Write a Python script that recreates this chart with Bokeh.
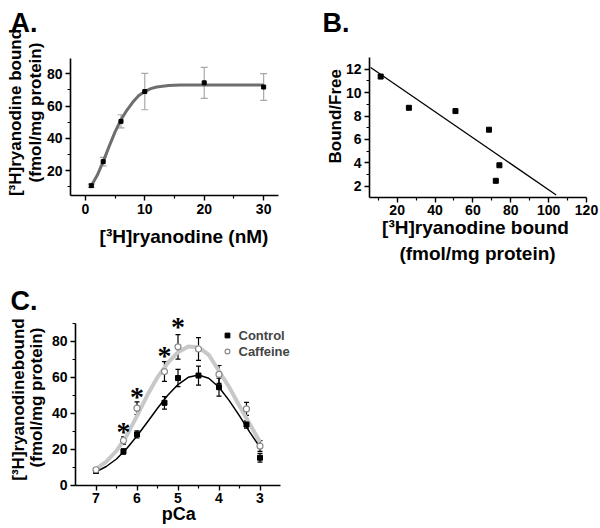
import math
from bokeh.plotting import figure
from bokeh.models import (Range1d, FixedTicker, Label, LabelSet, Whisker, TeeHead,
                          ColumnDataSource, Legend, LegendItem)
from bokeh.layouts import column, row
from bokeh.embed import file_html
from bokeh.resources import INLINE

FONT = "Liberation Sans"

# ---------------- Panel A data ----------------
a_x = [1, 3, 6, 10, 20, 30]
a_y = [10.6, 25.5, 50.5, 69.0, 74.4, 71.8]
a_err = [1.0, 2.6, 4.1, 11.3, 9.6, 8.3]
a_fit_x = [1, 2, 3, 4, 5, 6, 7, 8, 9, 10, 11, 12, 14, 16, 20, 25, 30]
a_fit_y = [10.5, 17.0, 25.5, 35.0, 44.0, 51.5, 57.5, 62.5, 66.5, 69.0, 70.8,
           71.8, 72.7, 73.0, 73.1, 73.1, 73.1]
a_xticks = [0, 10, 20, 30]
a_xminor = [5, 15, 25]
a_yticks = [20, 40, 60, 80]
a_yminor = [10, 30, 50, 70]

# ---------------- Panel B data ----------------
b_x = [11.3, 26.2, 50.8, 68.5, 74.0, 72.1]
b_y = [11.37, 8.7, 8.42, 6.83, 3.79, 2.46]
b_fit_x = [6.0, 104.0]
b_fit_y = [12.15, 1.25]
b_xticks = [20, 40, 60, 80, 100, 120]
b_xminor = [10, 30, 50, 70, 90, 110]
b_yticks = [2, 4, 6, 8, 10, 12]
b_yminor = [3, 5, 7, 9, 11]

# ---------------- Panel C data ----------------
c_pca = [7, 6.33, 6, 5.33, 5, 4.5, 4, 3.33, 3]
c_ctrl = [7.8, 18.7, 28.2, 45.8, 59.6, 61.0, 54.5, 33.7, 15.2]
c_ctrl_err = [1.0, 1.5, 2.0, 3.5, 4.8, 5.3, 5.0, 2.0, 2.4]
c_caff = [8.5, 24.8, 42.8, 63.2, 77.0, 75.8, 61.6, 42.4, 21.7]
c_caff_err = [1.0, 2.0, 3.5, 5.5, 6.8, 6.3, 5.0, 3.6, 3.0]
c_fit_x = [7.0, 6.75, 6.5, 6.25, 6.0, 5.75, 5.5, 5.25, 5.0, 4.75, 4.5, 4.25,
           4.0, 3.75, 3.5, 3.25, 3.0]
c_fit_ctrl = [7.3, 10.3, 14.5, 20.3, 27.3, 35.0, 42.8, 50.0, 56.0, 60.0, 61.3,
              59.5, 54.5, 47.0, 38.5, 29.5, 21.0]
c_fit_caff = [8.8, 13.0, 19.0, 27.5, 38.5, 50.0, 60.0, 68.0, 74.0, 77.2, 76.8,
              72.5, 63.5, 54.5, 44.0, 34.0, 24.0]
c_star_x = [6.33, 6, 5.33, 5]
c_star_y = [29.8, 49.2, 72.3, 88.6]
c_xticks = [7, 6, 5, 4, 3]
c_xminor = [6.5, 5.5, 4.5, 3.5]
c_yticks = [0, 20, 40, 60, 80]
c_yminor = [10, 30, 50, 70, 90]

FIG_W, FIG_H = 300, 264


def full_x(left_px, right_px, d_left, d_right):
    s = (d_right - d_left) / (right_px - left_px)
    return Range1d(d_left - left_px * s, d_right + (FIG_W - right_px) * s)


def full_y(top_px, bot_px, d_bot, d_top):
    s = (d_top - d_bot) / (bot_px - top_px)
    return Range1d(d_bot - (FIG_H - bot_px) * s, d_top + top_px * s)


def make_fig(box, xb, yb, xticks, xminor, yticks, yminor):
    left, top, right, bottom = box
    p = figure(width=FIG_W, height=FIG_H, min_border=0,
               min_border_left=0, min_border_right=0,
               min_border_top=0, min_border_bottom=0,
               x_range=full_x(left, right, xb[0], xb[1]),
               y_range=full_y(top, bottom, yb[0], yb[1]),
               output_backend="svg", toolbar_location=None, tools="")
    p.outline_line_color = None
    p.xgrid.visible = False
    p.ygrid.visible = False
    p.background_fill_color = "white"
    p.border_fill_color = "white"
    xa, ya = p.xaxis[0], p.yaxis[0]
    xa.fixed_location = yb[0]
    xa.bounds = (min(xb), max(xb))
    ya.fixed_location = xb[0]
    ya.bounds = (min(yb), max(yb))
    xa.ticker = FixedTicker(ticks=xticks, minor_ticks=xminor)
    ya.ticker = FixedTicker(ticks=yticks, minor_ticks=yminor)
    for ax in (xa, ya):
        ax.axis_line_width = 1.6
        ax.axis_line_color = "black"
        ax.major_tick_line_width = 1.4
        ax.minor_tick_line_width = 1.2
        ax.major_tick_line_color = "black"
        ax.minor_tick_line_color = "black"
        ax.major_tick_in = 0
        ax.major_tick_out = 5
        ax.minor_tick_in = 0
        ax.minor_tick_out = 3
        ax.major_label_text_font = FONT
        ax.major_label_text_font_style = "bold"
        ax.major_label_text_font_size = "14px"
        ax.major_label_text_color = "black"
        ax.major_label_standoff = 3
    return p


def add_label(p, text, fx, fy, size, angle=0.0, align="left", baseline="alphabetic"):
    p.add_layout(Label(x=fx, y=FIG_H - fy, x_units="screen", y_units="screen",
                       text=text, angle=angle, text_align=align,
                       text_baseline=baseline, text_font=FONT,
                       text_font_style="bold", text_font_size=f"{size}px",
                       text_color="black"))


def add_whiskers(p, xs, vals, errs, color, cap):
    s = ColumnDataSource(dict(x=xs, lo=[v - e for v, e in zip(vals, errs)],
                              hi=[v + e for v, e in zip(vals, errs)]))
    p.add_layout(Whisker(source=s, base="x", lower="lo", upper="hi",
                         line_color=color, line_width=1.2,
                         lower_head=TeeHead(size=cap, line_color=color, line_width=1.2),
                         upper_head=TeeHead(size=cap, line_color=color, line_width=1.2)))


# ================= Panel A =================
pA = make_fig((70, 58, 278, 195), (-2.5, 32.5), (4.5, 89.5),
              a_xticks, a_xminor, a_yticks, a_yminor)
pA.line(a_fit_x, a_fit_y, line_color="#6e6e6e", line_width=3)
add_whiskers(pA, a_x, a_y, a_err, "#a8a8a8", 7)
pA.scatter(a_x, a_y, marker="square", size=4, color="black")
add_label(pA, "A.", 10, 22, 27)
add_label(pA, "[³H]ryanodine bound", 15, 112, 17, angle=math.pi / 2,
          align="center", baseline="middle")
add_label(pA, "(fmol/mg protein)", 35, 112, 17, angle=math.pi / 2,
          align="center", baseline="middle")
add_label(pA, "[³H]ryanodine (nM)", 183.5, 236, 19, align="center")

# ================= Panel B =================
pB = make_fig((69, 57, 286, 196.7), (5.4, 120), (1.06, 13.0),
              b_xticks, b_xminor, b_yticks, b_yminor)
pB.line(b_fit_x, b_fit_y, line_color="black", line_width=1.3)
pB.scatter(b_x, b_y, marker="square", size=5, color="black")
add_label(pB, "B.", 22, 22, 27)
add_label(pB, "Bound/Free", 34.5, 115.8, 17, angle=math.pi / 2,
          align="center", baseline="middle")
add_label(pB, "[³H]ryanodine bound", 175, 227, 19, align="center")
add_label(pB, "(fmol/mg protein)", 177, 253, 19, align="center")

# ================= Panel C =================
pC = make_fig((75, 59, 280, 220.5), (7.5, 2.5), (0, 90),
              c_xticks, c_xminor, c_yticks, c_yminor)
pC.line(c_fit_x, c_fit_caff, line_color="#c8c8c8", line_width=4)
pC.line(c_fit_x, c_fit_ctrl, line_color="black", line_width=1.5)
add_whiskers(pC, c_pca, c_ctrl, c_ctrl_err, "black", 5)
add_whiskers(pC, c_pca, c_caff, c_caff_err, "black", 5)
r_ctrl = pC.scatter(c_pca, c_ctrl, marker="square", size=5, color="black")
r_caff = pC.scatter(c_pca, c_caff, marker="circle", size=6, line_color="#8a8a8a",
                    fill_color="white", line_width=1.2)
star_src = ColumnDataSource(dict(x=c_star_x, y=c_star_y, t=["*"] * len(c_star_x)))
pC.add_layout(LabelSet(source=star_src, x="x", y="y", text="t", text_align="center",
                       text_baseline="middle", text_font=FONT, text_font_style="bold",
                       text_font_size="28px", text_color="black"))
legend = Legend(items=[LegendItem(label="Control", renderers=[r_ctrl]),
                       LegendItem(label="Caffeine", renderers=[r_caff])],
                location=(220.5, 169), border_line_color=None,
                background_fill_alpha=0, padding=0, margin=0, spacing=0,
                label_height=16, glyph_height=16, glyph_width=12,
                label_standoff=6, label_text_font=FONT,
                label_text_font_style="bold", label_text_font_size="13px")
pC.add_layout(legend)
add_label(pC, "C.", 10, 36, 27)
add_label(pC, "[³H]ryanodinebound", 17.5, 135, 17, angle=math.pi / 2,
          align="center", baseline="middle")
add_label(pC, "(fmol/mg protein)", 36, 133, 17, angle=math.pi / 2,
          align="center", baseline="middle")
add_label(pC, "pCa", 178.3, 249, 18, align="center")

layout = column(row(pA, pB), pC)
open("out.html", "w").write(file_html(layout, INLINE))
